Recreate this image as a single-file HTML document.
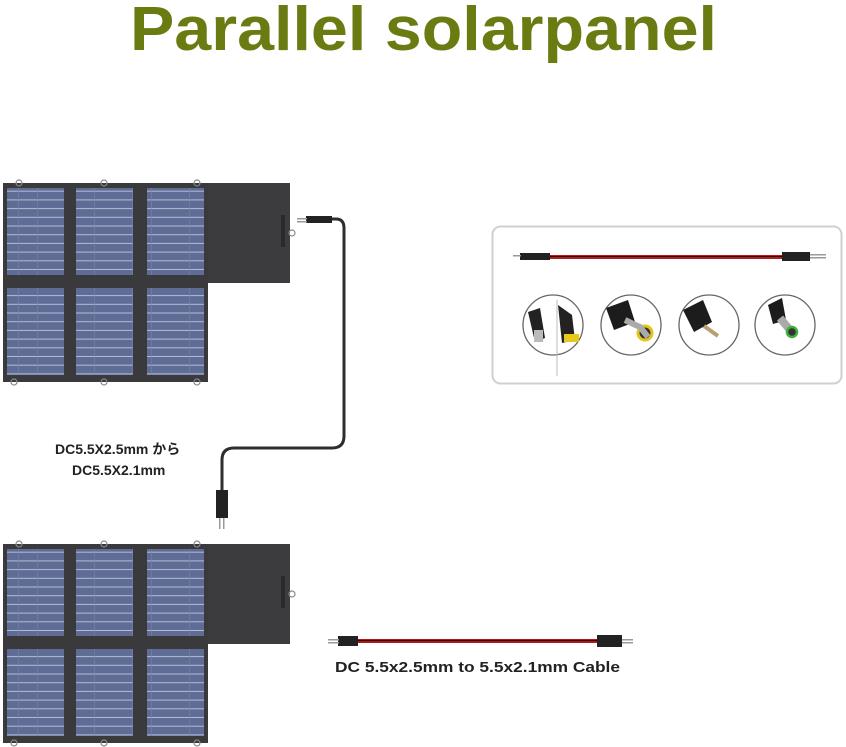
<!DOCTYPE html><html><head><meta charset="utf-8"><style>body{margin:0;background:#fff}svg{display:block}</style></head><body>
<svg width="846" height="747" xmlns="http://www.w3.org/2000/svg">
<defs>
<pattern id="cell" width="57" height="8.7" patternUnits="userSpaceOnUse"><rect width="57" height="8.7" fill="#5f6d96"/><rect y="7.7" width="57" height="1" fill="#b4bcd4"/><rect x="18" width="0.6" height="8.7" fill="#7884a8"/><rect x="37" width="0.6" height="8.7" fill="#7884a8"/></pattern>
<g id="panel">
<rect x="3" y="0" width="205" height="199" fill="#3a3a3c"/>
<rect x="208" y="0" width="82" height="100" fill="#3c3c3e"/>
<rect x="281" y="32" width="4" height="32" fill="#2a2a2a"/>
<g fill="url(#cell)">
<rect x="7" y="5" width="57" height="87"/><rect x="76" y="5" width="57" height="87"/><rect x="147" y="5" width="57" height="87"/>
<rect x="7" y="105" width="57" height="87"/><rect x="76" y="105" width="57" height="87"/><rect x="147" y="105" width="57" height="87"/>
</g>
<g fill="none" stroke="#888" stroke-width="1.2"><circle cx="19" cy="0" r="3"/><circle cx="104" cy="0" r="3"/><circle cx="197" cy="0" r="3"/><circle cx="14" cy="199" r="3"/><circle cx="104" cy="199" r="3"/><circle cx="197" cy="199" r="3"/><circle cx="292" cy="50" r="3"/></g>
</g>
</defs>
<text x="130" y="50" textLength="587" lengthAdjust="spacingAndGlyphs" font-family="Liberation Sans, sans-serif" font-weight="bold" font-size="62" fill="#6a7b12">Parallel solarpanel</text>
<use href="#panel" y="183"/>
<use href="#panel" y="544"/>
<path d="M330 219 H336 Q344 219 344 228 V436 Q344 448 332 448 H234 Q222 448 222 460 V492" fill="none" stroke="#2e2e2e" stroke-width="3"/>
<rect x="306" y="216" width="26" height="7" fill="#222"/><rect x="297" y="218" width="10" height="1.5" fill="#999"/><rect x="297" y="221" width="10" height="1.5" fill="#999"/>
<rect x="216" y="490" width="12" height="28" fill="#222"/><rect x="219" y="518" width="1.5" height="11" fill="#999"/><rect x="223" y="518" width="1.5" height="11" fill="#999"/>
<g font-family="Liberation Sans, 'Noto Sans CJK JP', sans-serif" font-weight="bold" font-size="14" fill="#222">
<text x="55" y="454">DC5.5X2.5mm から</text><text x="72" y="475">DC5.5X2.1mm</text>
<text x="335" y="672" font-size="15" textLength="285" lengthAdjust="spacingAndGlyphs">DC 5.5x2.5mm to 5.5x2.1mm Cable</text>
</g>
<rect x="355" y="639" width="245" height="4" fill="#b01818"/><rect x="355" y="640" width="245" height="1" fill="#300"/>
<rect x="338" y="636" width="20" height="10" fill="#222"/><rect x="328" y="639" width="11" height="1.5" fill="#999"/><rect x="328" y="642" width="11" height="1.5" fill="#999"/>
<rect x="597" y="635" width="25" height="12" fill="#222"/><rect x="622" y="639" width="11" height="1.5" fill="#999"/><rect x="622" y="642" width="11" height="1.5" fill="#999"/>
<rect x="492.5" y="226.5" width="349" height="157" rx="8" fill="#fff" stroke="#d0d0d0" stroke-width="2"/>
<rect x="549" y="255" width="240" height="4" fill="#b51c1c"/><rect x="549" y="256" width="240" height="1" fill="#300"/>
<rect x="520" y="253" width="30" height="7" fill="#222"/><rect x="513" y="255" width="8" height="1.5" fill="#999"/>
<rect x="782" y="252" width="28" height="9" fill="#222"/><rect x="810" y="254" width="16" height="1.5" fill="#999"/><rect x="810" y="257" width="16" height="1.5" fill="#999"/>
<g stroke="#666" stroke-width="1.3" fill="#fff"><circle cx="553" cy="325" r="30"/><circle cx="631" cy="325" r="30"/><circle cx="709" cy="325" r="30"/><circle cx="785" cy="325" r="30"/></g>
<line x1="557" y1="300" x2="557" y2="376" stroke="#bbb"/>
<path d="M528 312 L540 308 L545 338 L535 342Z" fill="#222"/><rect x="534" y="330" width="9" height="12" fill="#bbb"/>
<path d="M558 305 L572 315 L575 340 L562 343Z" fill="#222"/><rect x="564" y="334" width="15" height="8" fill="#e8c81a"/>
<path d="M606 308 L628 300 L635 322 L614 330Z" fill="#1c1c1c"/><circle cx="645" cy="333" r="7" fill="#333" stroke="#e3c41a" stroke-width="3"/><path d="M625 320 L640 327 L648 337" stroke="#aaa" stroke-width="6" fill="none"/>
<path d="M683 310 L703 300 L712 322 L694 332Z" fill="#1c1c1c"/><line x1="704" y1="326" x2="718" y2="336" stroke="#b8a070" stroke-width="4"/>
<path d="M768 305 L782 298 L786 320 L773 324Z" fill="#1c1c1c"/><line x1="780" y1="318" x2="790" y2="330" stroke="#aaa" stroke-width="8"/><circle cx="792" cy="332" r="5" fill="#333" stroke="#3db03d" stroke-width="2.5"/>
</svg>
</body></html>
